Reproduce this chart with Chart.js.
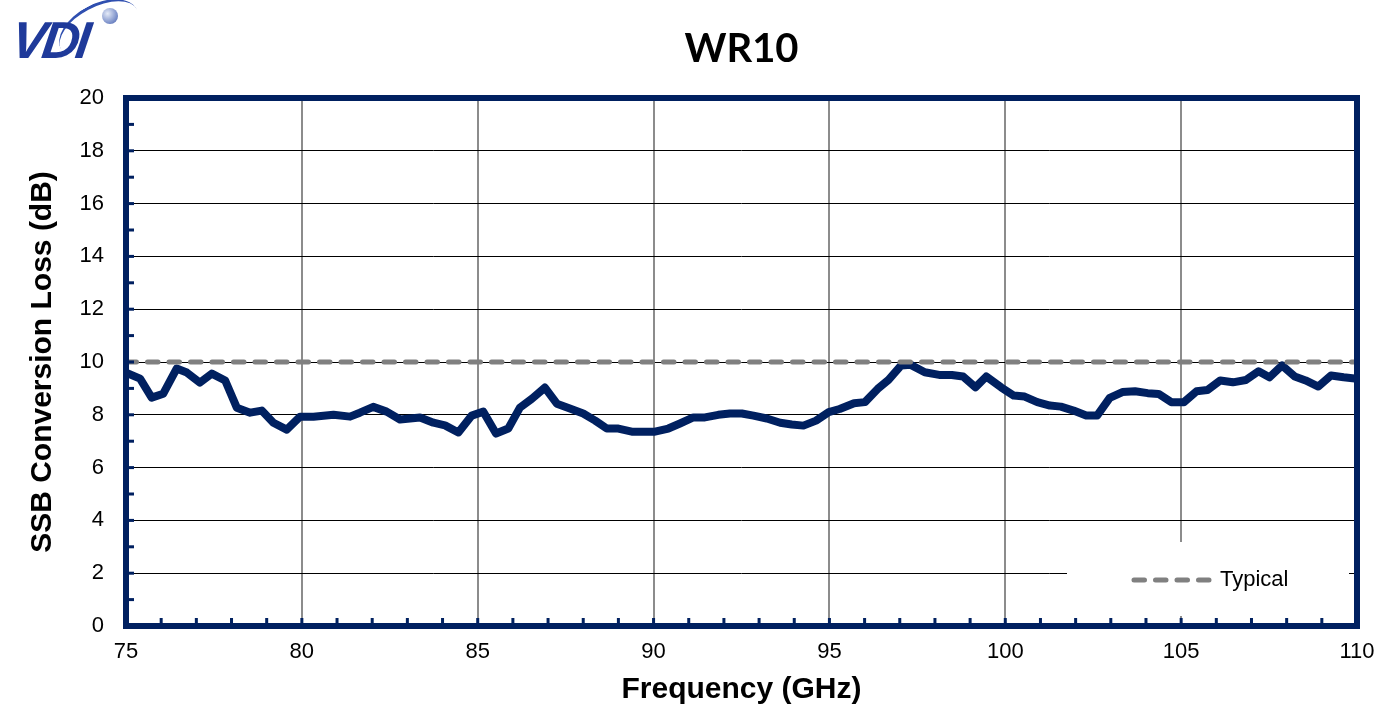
<!DOCTYPE html>
<html>
<head>
<meta charset="utf-8">
<script src="https://cdn.jsdelivr.net/npm/chart.js@4/dist/chart.umd.min.js"></script>
<style>
  html, body { margin: 0; padding: 0; background: #fff; }
  #wrap { position: relative; width: 1392px; height: 722px; }
  #title { position: absolute; left: 126px; width: 1231px; top: 23px; text-align: center;
           font: bold 40px Lato, "Open Sans", sans-serif; color: #000; }
  #logo { position: absolute; left: 12px; top: 2px; width: 130px; height: 66px; }
  #logo .txt { position: absolute; left: 0; top: 8px; font: italic bold 52px "Liberation Sans", Arial, sans-serif;
               color: #1f3a9a; letter-spacing: -4px; transform: skewX(-8deg); }
  #logo .ball { position: absolute; left: 90px; top: 6px; width: 16px; height: 16px; border-radius: 50%;
                background: radial-gradient(circle at 35% 35%, #e4eaf7, #7a8fc9 65%, #3b55a5); }
  #logo .swoosh { position: absolute; left: 44px; top: 2px; width: 86px; height: 48px; border-radius: 50%;
                  border-top: 3px solid #2f4fb0; transform: rotate(-28deg); }
</style>
</head>
<body>
<div id="wrap">
  <canvas id="chart" width="1392" height="722"></canvas>
  <div id="title">WR10</div>
  <div id="logo"><div class="swoosh"></div><div class="ball"></div><div class="txt">VDI</div></div>
</div>
<script>
// SSB conversion loss
var freqs = [75.0, 75.4, 75.73, 76.06, 76.44, 76.73, 77.1, 77.44, 77.82, 78.15,
  78.53, 78.86, 79.19, 79.57, 79.95, 80.33, 80.9, 81.37, 81.65, 82.03,
  82.41, 82.79, 83.36, 83.74, 84.07, 84.45, 84.83, 85.16, 85.52, 85.87,
  86.2, 86.54, 86.91, 87.25, 87.62, 88.0, 88.34, 88.67, 89.0, 89.38,
  89.71, 90.04, 90.42, 90.75, 91.13, 91.46, 91.84, 92.17, 92.51, 92.84,
  93.22, 93.6, 93.93, 94.26, 94.62, 94.98, 95.29, 95.7, 96.01, 96.37,
  96.68, 97.04, 97.3, 97.71, 98.12, 98.48, 98.8, 99.15, 99.46, 99.88,
  100.24, 100.55, 100.91, 101.27, 101.58, 101.94, 102.3, 102.61, 102.97, 103.33,
  103.69, 104.05, 104.36, 104.72, 105.08, 105.44, 105.75, 106.11, 106.47, 106.84,
  107.2, 107.51, 107.87, 108.23, 108.54, 108.9, 109.26, 109.62, 110.0];
var lossDb = [9.6, 9.37, 8.65, 8.8, 9.75, 9.6, 9.22, 9.56, 9.3, 8.27,
  8.08, 8.16, 7.7, 7.44, 7.93, 7.93, 8.0, 7.93, 8.08, 8.3,
  8.12, 7.82, 7.9, 7.7, 7.6, 7.33, 7.97, 8.12, 7.29, 7.48,
  8.27, 8.61, 9.03, 8.42, 8.24, 8.05, 7.78, 7.48, 7.48, 7.36,
  7.36, 7.36, 7.48, 7.67, 7.9, 7.9, 8.0, 8.05, 8.05, 7.97,
  7.86, 7.7, 7.63, 7.59, 7.78, 8.1, 8.22, 8.44, 8.48, 8.98,
  9.32, 9.87, 9.9, 9.61, 9.51, 9.51, 9.45, 9.04, 9.45, 9.04,
  8.73, 8.69, 8.48, 8.35, 8.31, 8.16, 7.97, 7.97, 8.64, 8.86,
  8.89, 8.82, 8.79, 8.48, 8.48, 8.89, 8.94, 9.3, 9.23, 9.32,
  9.65, 9.42, 9.87, 9.45, 9.3, 9.07, 9.49, 9.42, 9.36];
var typicalFreqs = [75, 110];
var typicalDb = [10, 10];
var typicalLabel = "Typical";

var navy = "#002060";
var font = "'Liberation Sans', Arial, sans-serif";

var measured = freqs.map(function (f, i) { return { x: f, y: lossDb[i] }; });
var typical = typicalFreqs.map(function (f, i) { return { x: f, y: typicalDb[i] }; });

// minor ticks inside the frame, legend box, and the thick frame
var framePlugin = {
  id: 'frame',
  afterDraw: function (chart) {
    var ctx = chart.ctx, a = chart.chartArea;
    var xs = chart.scales.x, ys = chart.scales.y;
    ctx.save();

    // legend box
    ctx.fillStyle = "#fff";
    ctx.fillRect(1067, 542, 282, 74);
    var ds = chart.data.datasets[0];
    ctx.strokeStyle = ds.borderColor;
    ctx.lineWidth = ds.borderWidth;
    ctx.lineCap = ds.borderCapStyle;
    ctx.setLineDash(ds.borderDash);
    ctx.beginPath();
    ctx.moveTo(1134, 580);
    ctx.lineTo(1210, 580);
    ctx.stroke();
    ctx.setLineDash([]);
    ctx.fillStyle = "#000";
    ctx.font = "22px " + font;
    ctx.textBaseline = "middle";
    ctx.fillText(ds.label, 1220, 580);

    // minor ticks
    ctx.fillStyle = navy;
    for (var v = 1; v < 20; v++) {
      var py = ys.getPixelForValue(v);
      ctx.fillRect(a.left, py - 1.5, 8, 3);
    }
    for (var f = 76; f < 110; f++) {
      var px = xs.getPixelForValue(f);
      ctx.fillRect(px - 1.5, a.bottom - 8, 3, 8);
    }

    // frame
    ctx.strokeStyle = navy;
    ctx.lineWidth = 6;
    ctx.lineCap = "square";
    ctx.strokeRect(a.left, a.top, a.right - a.left, a.bottom - a.top);
    ctx.restore();
  }
};

new Chart(document.getElementById("chart"), {
  type: 'line',
  data: {
    datasets: [{
      label: typicalLabel,
      data: typical,
      borderColor: "#808080",
      borderWidth: 5,
      borderDash: [10.5, 11],
      borderCapStyle: 'round',
      pointRadius: 0
    }, {
      label: "Measured",
      data: measured,
      borderColor: navy,
      borderWidth: 8,
      borderJoinStyle: 'round',
      borderCapStyle: 'round',
      pointRadius: 0,
      tension: 0
    }]
  },
  options: {
    responsive: false,
    animation: false,
    events: [],
    layout: { padding: { top: 98, right: 35, left: 0, bottom: 0 } },
    plugins: {
      legend: { display: false },
      title: { display: false },
      tooltip: { enabled: false }
    },
    scales: {
      x: {
        type: 'linear',
        min: 75, max: 110,
        afterFit: function (s) { s.height = 96; },
        ticks: { stepSize: 5, color: "#000", padding: 13,
                 font: { family: font, size: 22 } },
        grid: { color: "#8c8c8c", lineWidth: 2, drawTicks: false },
        border: { display: false },
        title: { display: true, text: "Frequency (GHz)", color: "#000",
                 padding: { top: 0, bottom: 14 },
                 font: { family: font, size: 30, weight: 'bold' } }
      },
      y: {
        min: 0, max: 20,
        afterFit: function (s) { s.width = 126; },
        ticks: { stepSize: 2, color: "#000", padding: 22,
                 font: { family: font, size: 22 } },
        grid: { color: "#000", lineWidth: 1, drawTicks: false },
        border: { display: false },
        title: { display: true, text: "SSB Conversion Loss (dB)", color: "#000",
                 padding: { top: 25, bottom: 0 },
                 font: { family: font, size: 30, weight: 'bold' } }
      }
    }
  },
  plugins: [framePlugin]
});
</script>
</body>
</html>
